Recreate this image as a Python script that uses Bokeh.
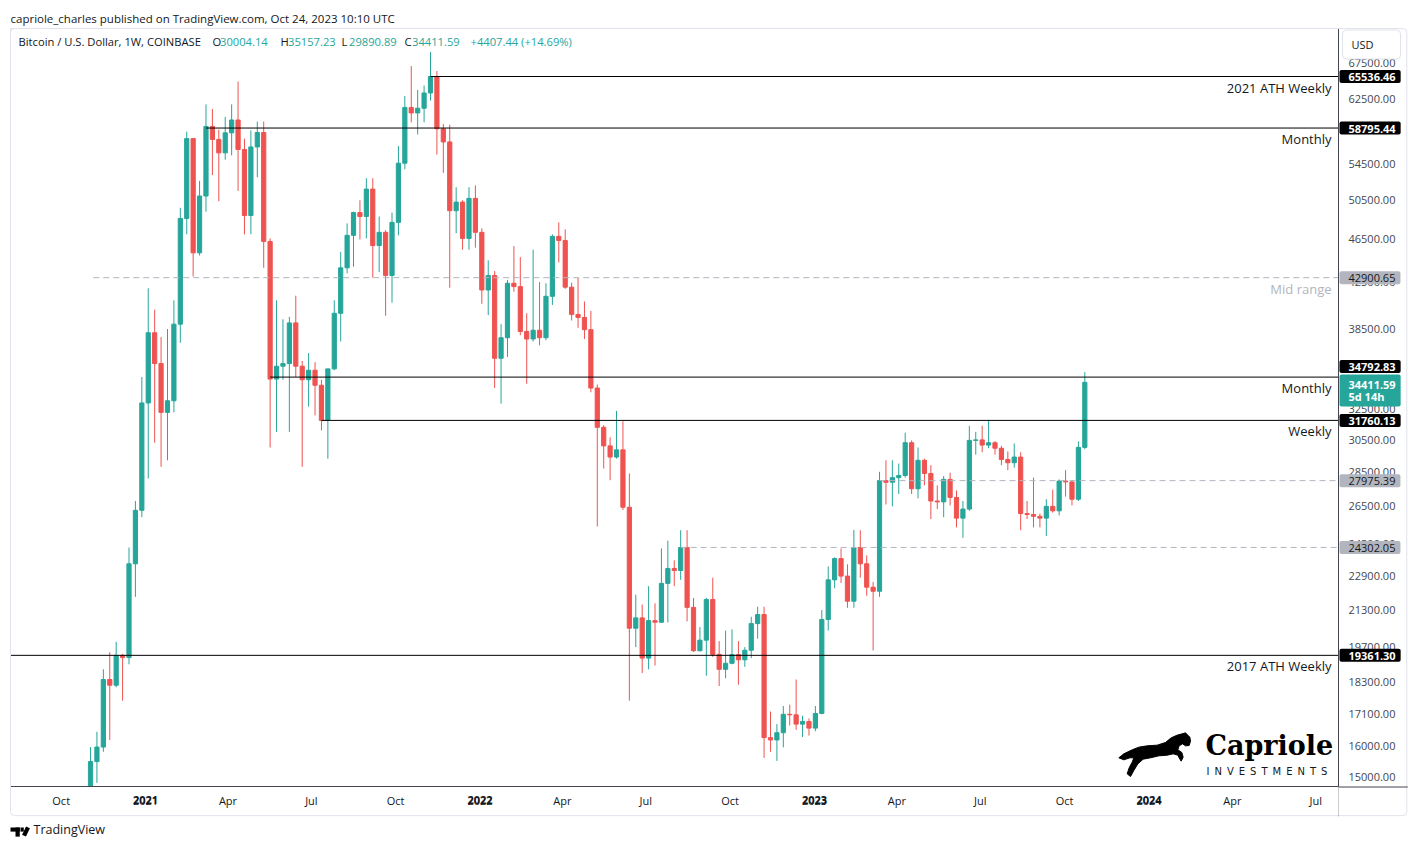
import numpy as np
import pandas as pd
from bokeh.plotting import figure
from bokeh.models import (Range1d, FixedTicker, PrintfTickFormatter, Label, Title,
                          ColumnDataSource)
from bokeh.embed import file_html
from bokeh.resources import INLINE

# ---------------- data ----------------
week_start = "2020-11-02"   # first weekly candle (Monday open)

opens = [13737, 15480, 15960, 18400, 18180, 19360, 19270, 23480, 26280,
         32950, 38200, 35800, 32300, 33100, 38900, 48600, 57500, 45200, 50950, 59000, 57400, 55800, 58200, 59800, 56200, 48900, 56500, 58250, 46300, 34650, 35600, 35800, 39000, 35600, 34600, 35300, 34200, 31760, 35400, 39800, 43800, 46900, 49200, 48800, 51700, 45900, 47200, 43100, 48200, 54600, 61400, 60700, 61300, 63300, 65536.46, 58700, 57100, 49400, 50300, 46600, 50700,
         47200, 41800, 43100, 36200, 37800, 42400, 42100, 38300, 37700, 38400, 37800, 41250, 46800, 46400, 42050, 39700, 39450, 38450, 34000, 31300, 30100, 29400, 29850, 26450, 20500, 20950, 19250, 20830, 20760, 22530, 23250, 23150, 24302.05, 21420, 19550, 19990, 21780, 19400, 18800, 19040, 19390, 19180, 19570, 20700, 21100, 16280, 16200, 16450, 17100, 17080, 16750, 16840,
         16610, 17130, 20880, 22700, 23740, 22880, 21700, 24300, 23480, 22350, 22160, 27975.39, 27880, 28150, 28280, 30300, 27500, 29200, 28400, 26800, 26750, 28050, 27000, 25850, 26350, 30450, 30480, 30150, 30300, 29950, 29250, 29050, 29400, 26100, 26050, 25950, 25850, 26500, 26250, 27950, 27900, 26900, 30004.14]
highs = [15960, 16480, 18800, 19490, 19920, 19420, 24300, 26800, 34800,
         41950, 40100, 37850, 38500, 40900, 49700, 58350, 57550, 52600, 61800, 61200, 58600, 60200, 61800, 64850, 57500, 58500, 59600, 59600, 46600, 40900, 39300, 39500, 41300, 36000, 36600, 35900, 34600, 34500, 40900, 45300, 48100, 49300, 50500, 52900, 52900, 48800, 47400, 49200, 56600, 62900, 67000, 63700, 64300, 69000, 66300, 59300, 59200, 51900, 50500, 51900, 52100,
         47600, 44500, 43500, 38900, 42700, 45850, 44800, 39800, 45500, 42500, 42400, 47000, 48200, 47500, 42450, 42900, 40800, 40000, 34250, 31450, 30650, 32400, 31700, 28400, 22000, 21550, 22400, 21600, 24250, 24650, 23650, 25200, 25200, 21850, 20550, 21850, 22800, 19950, 20400, 20450, 19950, 19700, 21000, 21450, 21450, 17200, 16750, 17400, 17450, 18400, 17050, 16950,
         17400, 21300, 23350, 23800, 24250, 23450, 25220, 25200, 23900, 22600, 28500, 29200, 29200, 29000, 30950, 30450, 30000, 29300, 28900, 27700, 28250, 28450, 27400, 26800, 31400, 31000, 31400, 31800, 30400, 30100, 29750, 30250, 29700, 26800, 28150, 26100, 26900, 27450, 28050, 28600, 28000, 30380, 35157.23]
lows = [13200, 14800, 15800, 16200, 18100, 17600, 19000, 21900, 25900,
        28100, 30300, 28800, 29200, 32300, 37400, 47000, 43000, 44950, 49300, 53250, 50400, 55000, 55500, 51500, 47000, 47000, 53000, 43800, 30000, 31000, 34600, 31000, 34800, 28800, 32700, 32100, 31100, 29300, 35300, 37500, 43300, 43900, 46500, 46600, 42900, 43400, 39600, 40700, 46900, 53900, 59500, 58000, 59500, 62300, 55600, 53500, 42000, 47100, 45500, 45500, 45700,
        40600, 39650, 34000, 32900, 36300, 41650, 38000, 34300, 37500, 37200, 37600, 40500, 44300, 41900, 39200, 38600, 37700, 33700, 25400, 28700, 28000, 29300, 26300, 17600, 19700, 18650, 18800, 18950, 20750, 20750, 22400, 22700, 20800, 19500, 19520, 18550, 19300, 18150, 18450, 19000, 18200, 18900, 19250, 20050, 15600, 15800, 15500, 15950, 16700, 16550, 16300, 16350,
        16500, 17100, 20400, 22300, 22550, 21400, 21400, 22800, 21950, 19560, 21900, 26600, 26500, 27200, 28150, 27200, 26950, 27700, 25800, 26350, 25900, 26550, 25350, 24800, 26250, 29550, 29700, 29950, 29550, 28900, 28600, 28750, 25200, 25800, 25350, 25350, 24900, 26150, 26000, 27050, 26550, 26800, 29890.89]
closes = opens[1:] + [34411.59]

# horizontal levels drawn on the chart
level_price = [65536.46, 58795.44, 42900.65, 34792.83, 31760.13, 27975.39, 24302.05, 19361.30]
level_from = ["2021-11-08", "2021-03-08", "2020-11-05", "2021-05-17", "2021-07-12", "2023-03-13", "2022-08-08", "2020-07-01"]
level_text = ["2021 ATH Weekly", "Monthly", "Mid range", "Monthly", "Weekly", "", "", "2017 ATH Weekly"]
level_dashed = [False, False, True, False, False, True, True, False]

last_price = 34411.59
countdown = "5d 14h"

y_ticks = [15000, 16000, 17100, 18300, 19700, 21300, 22900, 24500, 26500, 28500, 30500,
           32500, 35500, 38500, 42500, 46500, 50500, 54500, 58500, 62500, 67500]
x_tick_dates = ["2020-10-01", "2021-01-01", "2021-04-01", "2021-07-01", "2021-10-01",
                "2022-01-01", "2022-04-01", "2022-07-01", "2022-10-01", "2023-01-01",
                "2023-04-01", "2023-07-01", "2023-10-01", "2024-01-01", "2024-04-01", "2024-07-01"]
x_tick_labels = ["Oct", "2021", "Apr", "Jul", "Oct", "2022", "Apr", "Jul", "Oct", "2023",
                 "Apr", "Jul", "Oct", "2024", "Apr", "Jul"]

header_title = "capriole_charles published on TradingView.com, Oct 24, 2023 10:10 UTC"
legend_name = "Bitcoin / U.S. Dollar, 1W, COINBASE"
legend_ohlc = [("O", "30004.14"), ("H", "35157.23"), ("L", "29890.89"), ("C", "34411.59")]
legend_change = "+4407.44 (+14.69%)"

# ---------------- layout helpers (page pixels -> data) ----------------
DAY = 86400000.0
PX_PER_DAY = 0.9164
def ms(d):
    return pd.Timestamp(d).value / 1e6
MS_PER_PX = DAY / PX_PER_DAY
X0 = ms("2021-01-01") - 135 * MS_PER_PX        # page x = 10 (frame left)
K = 714.0 / np.log(67500 / 15000)               # px per log unit
YMIN = 15000 * np.exp(-10 / K)                  # page y = 786 (frame bottom)
def X(px):
    return X0 + (px - 10) * MS_PER_PX
def Y(py):
    return YMIN * np.exp((786 - py) / K)
def ypix(price):
    return 786 - K * np.log(price / YMIN)

UP = "#26a69a"
DN = "#ef5350"
TXT = "#131722"
FONT = "Open Sans"

p = figure(frame_width=1328, frame_height=758, x_range=Range1d(X(10), X(1338)),
           y_range=Range1d(YMIN, Y(28)), y_axis_type="log", y_axis_location="right",
           toolbar_location=None, output_backend="svg",
           min_border_left=10, min_border_right=71, min_border_top=28, min_border_bottom=55)
p.grid.grid_line_color = None
p.outline_line_color = "#e0e3eb"
p.background_fill_color = "white"
p.border_fill_color = "white"

# title (above the frame)
p.title.text = header_title
p.title.align = "left"
p.title.text_font = FONT
p.title.text_font_size = "11.5px"
p.title.text_font_style = "normal"
p.title.text_color = TXT
p.title.offset = 0
p.title.standoff = 6

# axes
ya = p.yaxis[0]
ya.ticker = FixedTicker(ticks=y_ticks)
ya.formatter = PrintfTickFormatter(format="%.2f")
ya.axis_line_color = "#434651"
ya.major_tick_line_color = None
ya.minor_tick_line_color = None
ya.major_tick_out = 0
ya.major_tick_in = 0
ya.major_label_standoff = 10
ya.major_label_text_font = FONT
ya.major_label_text_font_size = "11px"
ya.major_label_text_color = "#434651"

xa = p.xaxis[0]
xticks = [ms(d) for d in x_tick_dates]
is_year = [lab.isdigit() for lab in x_tick_labels]
xa.ticker = FixedTicker(ticks=xticks)
xa.major_label_overrides = {t: lab for t, lab in zip(xticks, x_tick_labels)}
xa.axis_line_color = "#434651"
xa.major_tick_line_color = None
xa.minor_tick_line_color = None
xa.major_tick_out = 0
xa.major_tick_in = 0
xa.major_label_standoff = 6
xa.major_label_text_font = FONT
xa.major_label_text_font_size = "11px"
xa.major_label_text_color = TXT

# footer (below the time axis)
p.add_layout(Title(text="TradingView", align="left", text_font=FONT, text_font_size="12.5px",
                   text_font_style="normal", text_color=TXT, offset=23, standoff=17), "below")

# candles
dates = pd.date_range(week_start, periods=len(closes), freq="7D")
xs = [ms(d) for d in dates]
o = np.array(opens, float); h = np.array(highs, float)
l = np.array(lows, float); c = np.array(closes, float)
up = c >= o
src = ColumnDataSource(dict(x=xs, o=o, h=h, l=l, c=c,
                            top=np.maximum(o, c), bot=np.minimum(o, c),
                            col=[UP if u else DN for u in up]))
p.segment(x0="x", y0="l", x1="x", y1="h", color="col", line_width=1, source=src)
p.vbar(x="x", width=4.2 * MS_PER_PX, top="top", bottom="bot", fill_color="col",
       line_color="col", line_width=1, source=src)

# horizontal levels
for price, start, txt, dashed in zip(level_price, level_from, level_text, level_dashed):
    p.segment(x0=[ms(start)], y0=[price], x1=[X(1345)], y1=[price],
              line_color="#b2b5be" if dashed else "black", line_width=1,
              line_dash="6 4" if dashed else "solid")
    if txt:
        p.add_layout(Label(x=X(1331), y=Y(ypix(price) + 11), text=txt, text_align="right",
                           text_baseline="middle", text_font=FONT, text_font_size="13px",
                           text_color="#b2b5be" if dashed else TXT))

# ---- items outside the frame: attached to the right-hand panel so they are not clipped ----
def block(x0, y0, w, h, fill=None, line=None, radius=0):
    """plain rectangle (page px) drawn as an empty, padded label box"""
    return Label(x=X(x0), y=Y(y0), text=" ", text_font_size="1px", text_align="left",
                 text_baseline="top", background_fill_color=fill,
                 border_line_color=line, border_radius=radius,
                 padding=dict(left=0, right=int(w), top=0, bottom=int(h)))

# outer container border and axis-line extensions
p.add_layout(block(10, 28, 1396, 786, line="#e0e3eb", radius=4), "right")
p.add_layout(block(1338, 786, 0, 29, fill="#434651"), "right")
p.add_layout(block(1338, 786, 69, 0, fill="#434651"), "right")

# bold year labels on the time scale
for t, lab, y in zip(xticks, x_tick_labels, is_year):
    if y:
        p.add_layout(Label(x=t, y=Y(799.5), text=lab, text_align="center", text_baseline="middle",
                           text_font=FONT, text_font_size="11px", text_font_style="bold",
                           text_color=TXT), "right")

# price boxes on the scale
box_y = {34792.83: Y(366)}   # label pushed up by the last-price box
for price, dashed in zip(level_price, level_dashed):
    p.add_layout(Label(x=X(1339), y=box_y.get(price, price), text=f"{price:.2f}", text_align="left",
                       text_baseline="middle", text_font=FONT, text_font_size="11px",
                       text_font_style="normal" if dashed else "bold",
                       text_color=TXT if dashed else "white",
                       background_fill_color="#b2b5be" if dashed else "black",
                       padding=dict(left=9, right=5, top=3, bottom=2), border_radius=2), "right")

# last price box
p.add_layout(Label(x=X(1339), y=Y(374), text=f"{last_price:.2f}\n{countdown}",
                   text_align="left", text_baseline="top", text_font=FONT, text_font_size="11px",
                   text_font_style="bold", text_color="white", background_fill_color=UP,
                   text_line_height=0.8,
                   padding=dict(left=9, right=5, top=2, bottom=3), border_radius=2), "right")

# currency box
p.add_layout(Label(x=X(1342), y=Y(44), text="USD", text_align="left", text_baseline="middle",
                   text_font=FONT, text_font_size="11px", text_color=TXT,
                   background_fill_color="white", border_line_color="#e0e3eb",
                   padding=dict(left=9, right=27, top=7, bottom=7), border_radius=4), "right")

# footer logo (TradingView mark)
p.add_layout(block(10, 827, 9, 3, fill="black"), "right")
p.add_layout(block(15, 827, 4, 8, fill="black"), "right")
p.add_layout(block(20, 827, 3, 3, fill="black"), "right")
p.add_layout(Label(x=X(25.5), y=Y(831), text=" ", text_font_size="1px", text_align="center",
                   text_baseline="middle", background_fill_color="black", angle=-0.45,
                   padding=dict(left=2, right=2, top=4, bottom=4)), "right")

# legend line
p.add_layout(Label(x=X(18), y=Y(41), text=legend_name, text_align="left", text_baseline="middle",
                   text_font=FONT, text_font_size="11.2px", text_color=TXT))
lx = [212, 280, 341, 404]
for (k, v), x0 in zip(legend_ohlc, lx):
    p.add_layout(Label(x=X(x0), y=Y(41), text=k, text_align="left", text_baseline="middle",
                       text_font=FONT, text_font_size="11.2px", text_color=TXT))
    p.add_layout(Label(x=X(x0 + 7.5), y=Y(41), text=v, text_align="left", text_baseline="middle",
                       text_font=FONT, text_font_size="11.2px", text_color=UP))
p.add_layout(Label(x=X(470), y=Y(41), text=legend_change, text_align="left", text_baseline="middle",
                   text_font=FONT, text_font_size="11.2px", text_color=UP))

# watermark
horse = [(55,112),(70,100),(95,88),(115,80),(140,76),(170,74),(195,66),(212,52),(230,44),(245,40),
         (255,37),(262,44),(268,50),(270,62),(266,75),(255,76),(246,70),(236,76),(232,88),(244,96),
         (248,110),(242,122),(236,112),(232,104),(218,100),(200,104),(175,106),(150,112),(128,116),
         (112,130),(100,150),(90,168),(80,160),(86,142),(95,125),(100,112),(88,112),(70,118)]
p.patch([X(1100 + a / 3) for a, b in horse], [Y(720 + b / 3) for a, b in horse],
        fill_color="black", line_color="black")
p.add_layout(Label(x=X(1205), y=Y(745), text="Capriole", text_align="left", text_baseline="middle",
                   text_font="DejaVu Serif", text_font_size="27px", text_font_style="bold",
                   text_color="black"))
p.add_layout(Label(x=X(1206), y=Y(771), text="\u2002".join("INVESTMENTS"), text_align="left",
                   text_baseline="middle", text_font="DejaVu Sans", text_font_size="10px",
                   text_color=TXT))

open("out.html", "w").write(file_html(p, INLINE))
